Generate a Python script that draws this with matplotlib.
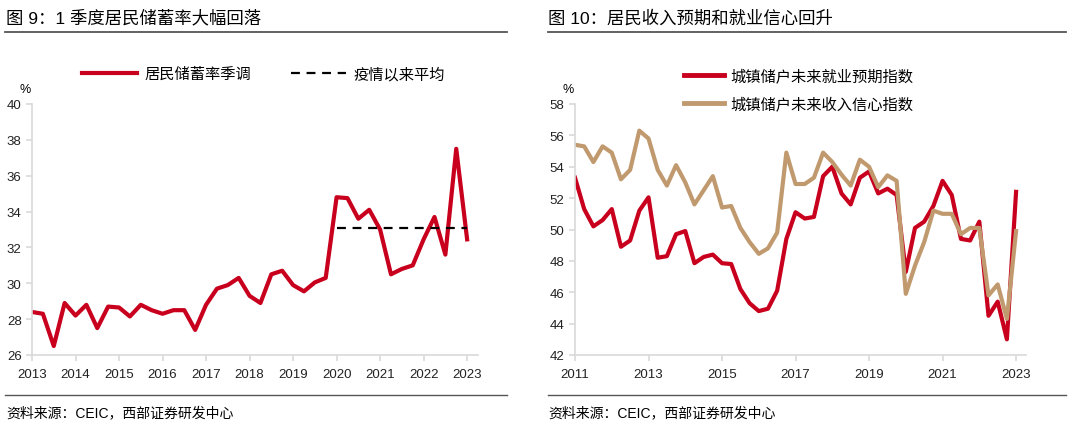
import numpy as np
import matplotlib.pyplot as plt
from matplotlib.lines import Line2D

plt.rcParams['font.family'] = ['Liberation Sans', 'Noto Sans CJK SC']

# 图9：居民储蓄率季调（2013Q1 - 2023Q1，季度）
saving_start = 2013
saving_rate = [28.4, 28.3, 26.5, 28.9, 28.2, 28.8, 27.5, 28.7,
               28.65, 28.15, 28.8, 28.5, 28.3, 28.5, 28.5, 27.4,
               28.8, 29.7, 29.9, 30.3, 29.3, 28.9, 30.5, 30.7,
               29.9, 29.55, 30.05, 30.3, 34.8, 34.75, 33.6, 34.1,
               33.0, 30.5, 30.8, 31.0, 32.45, 33.7, 31.6, 37.5,
               32.45]
covid_avg = 33.1
covid_from, covid_to = 2020, 2023

# 图10：城镇储户指数（2011Q1 - 2023Q1，季度）
survey_start = 2011
job_expect = [53.3, 51.3, 50.2, 50.6, 51.3, 48.9, 49.3, 51.2,
              52.05, 48.2, 48.3, 49.7, 49.9, 47.85, 48.25, 48.4,
              47.85, 47.8, 46.2, 45.3, 44.8, 44.95, 46.1, 49.4,
              51.1, 50.7, 50.8, 53.4, 54.0, 52.3, 51.6, 53.3,
              53.7, 52.3, 52.6, 52.2, 47.3, 50.1, 50.5, 51.5,
              53.1, 52.2, 49.4, 49.3, 50.5, 44.5, 45.4, 43.0,
              52.4]
income_conf = [55.4, 55.3, 54.3, 55.3, 54.9, 53.2, 53.8, 56.3,
               55.8, 53.8, 52.8, 54.1, 53.0, 51.6, 52.5, 53.4,
               51.4, 51.5, 50.1, 49.2, 48.45, 48.8, 49.8, 54.9,
               52.9, 52.9, 53.3, 54.9, 54.3, 53.5, 52.8, 54.45,
               54.0, 52.7, 53.45, 53.1, 45.9, 47.7, 49.2, 51.2,
               51.0, 51.0, 49.7, 50.1, 50.1, 45.8, 46.5, 44.3,
               49.9]

RED = '#C8001E'
TAN = '#C09A6E'
GRID = '#D9D9D9'
W, H = 1080, 427

fig = plt.figure(figsize=(10.8, 4.27), dpi=100)


def px_axes(x0, x1, y_top, y_bot):
    return fig.add_axes([x0 / W, 1 - y_bot / H, (x1 - x0) / W, (y_bot - y_top) / H])


def style(ax):
    for s in ['top', 'right']:
        ax.spines[s].set_visible(False)
    for s in ['left', 'bottom']:
        ax.spines[s].set_color(GRID)
        ax.spines[s].set_linewidth(1.2)
    ax.tick_params(colors=GRID, labelcolor='#222222', labelsize=9.5, length=4, width=1.2)
    ax.tick_params(axis='x', pad=5)


# ---- left chart
ax1 = px_axes(32, 478, 105, 356)
x1 = saving_start + 0.25 * np.arange(len(saving_rate))
ax1.plot(x1, saving_rate, color=RED, lw=3, label='居民储蓄率季调')
ax1.plot([covid_from, covid_to], [covid_avg, covid_avg], color='black', lw=1.6,
         ls=(0, (4, 3)), label='疫情以来平均')
ax1.set_xlim(2013, 2023.25)
ax1.set_ylim(26, 40)
ax1.set_xticks(range(2013, 2024))
ax1.set_yticks(range(26, 41, 2))
style(ax1)
ax1.legend(ncol=2, loc='center left', bbox_to_anchor=(0.112, 1.12), frameon=False,
           fontsize=11, handlelength=3.6, columnspacing=2.6, handletextpad=0.5,
           borderpad=0, borderaxespad=0)
ax1.text(-0.015, 1.035, '%', transform=ax1.transAxes, fontsize=9, ha='center', va='bottom')

# ---- right chart
ax2 = px_axes(575, 1026, 105, 356)
x2 = survey_start + 0.25 * np.arange(len(job_expect))
ax2.plot(x2, job_expect, color=RED, lw=3)
ax2.plot(x2, income_conf, color=TAN, lw=3)
ax2.set_xlim(2011, 2023.27)
ax2.set_ylim(42, 58)
ax2.set_xticks(range(2011, 2024, 2))
ax2.set_yticks(range(42, 59, 2))
style(ax2)
handles = [Line2D([], [], color=RED, lw=3.5), Line2D([], [], color=TAN, lw=3.5)]
ax2.legend(handles, ['城镇储户未来就业预期指数', '城镇储户未来收入信心指数'],
           loc='center left', bbox_to_anchor=(0.242, 1.058), frameon=False, fontsize=11,
           handlelength=2.6, handletextpad=0.4, labelspacing=0.85,
           borderpad=0, borderaxespad=0)
ax2.text(-0.015, 1.035, '%', transform=ax2.transAxes, fontsize=9, ha='center', va='bottom')

# ---- titles, rules and sources
fig.text(6 / W, 1 - 18 / H, '图 9：1 季度居民储蓄率大幅回落', fontsize=12.5, va='center', ha='left')
fig.text(548 / W, 1 - 18 / H, '图 10：居民收入预期和就业信心回升', fontsize=12.5, va='center', ha='left')
for xa, xb in [(5, 507), (548, 1066)]:
    fig.add_artist(Line2D([xa / W, xb / W], [1 - 33 / H] * 2, color='#555555', lw=1.3))
    fig.add_artist(Line2D([xa / W, xb / W], [1 - 396 / H] * 2, color='#555555', lw=1.0))
fig.text(6 / W, 1 - 413 / H, '资料来源：CEIC，西部证券研发中心', fontsize=10, va='center', ha='left')
fig.text(548 / W, 1 - 413 / H, '资料来源：CEIC，西部证券研发中心', fontsize=10, va='center', ha='left')

fig.savefig('out.png', dpi=100)
